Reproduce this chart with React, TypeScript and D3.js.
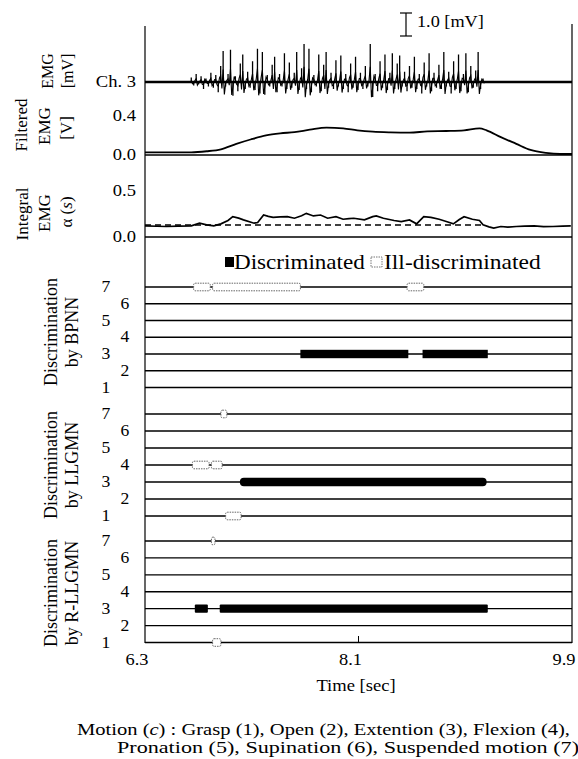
import * as d3 from "d3";

// ---------------- data
const timeDomain = [6.3, 9.9];
const timeTicks = [6.3, 8.1, 9.9];

// raw EMG (ch. 3), burst amplitudes in mV, evenly spaced between burst start/end
const emgStart = 6.69;
const emgEnd = 9.15;
const emgAmp = [
  0.2, -0.15, 0.35, -0.1, 0.25, -0.3, 0.15, -0.2, 0.4, -0.25,
  0.3, -0.45, 0.7, 1.35, -0.2, 0.35, 1.4, -0.6, 0.25, -0.4,
  0.8, 1.2, -0.3, 0.45, -0.25, 0.9, -0.35, 1.45, -0.5, 1.3,
  -0.55, 0.3, -0.2, 0.75, 1.1, -0.45, 0.35, -0.2, 1.25, -0.3,
  0.85, -0.25, 0.4, 1.3, -0.35, 0.6, 1.65, -0.3, 1.45, -0.45,
  0.3, -0.2, 1.2, -0.4, 0.75, 1.3, -0.25, 0.4, -0.3, 0.95,
  -0.2, 1.15, -0.3, 0.35, -0.45, 0.8, -0.25, 1.1, -0.35, 0.4,
  -0.3, 0.7, -0.2, 1.65, -0.65, 0.35, -0.4, 0.9, -0.25, 1.2,
  -0.35, 0.4, 1.25, -0.3, 0.8, 1.15, -0.2, 0.45, -0.4, 0.7,
  -0.25, 1.1, -0.3, 0.35, -0.5, 0.85, -0.2, 1.25, -0.4, 0.4,
  -0.25, 0.75, -0.3, 1.3, -0.2, 0.45, -0.5, 0.9, -0.3, 1.2,
  -0.4, 0.35, 1.25, -0.45, 0.7, -0.25, 0.5, 1.3, -0.3, 0.15,
];

// filtered EMG [V]
const filteredT = [6.3, 6.69, 6.82, 6.94, 7.07, 7.19, 7.32, 7.44, 7.56, 7.69, 7.83, 7.97, 8.09, 8.22, 8.37, 8.53, 8.68, 8.84, 8.99, 9.12, 9.18, 9.3, 9.43, 9.55, 9.68, 9.8, 9.9];
const filteredV = [0.027, 0.027, 0.038, 0.058, 0.113, 0.157, 0.198, 0.219, 0.232, 0.256, 0.277, 0.27, 0.25, 0.236, 0.229, 0.226, 0.239, 0.243, 0.25, 0.27, 0.25, 0.181, 0.113, 0.051, 0.021, 0.01, 0.01];

// integral EMG alpha(s) and threshold
const integralT = [6.3, 6.4, 6.48, 6.58, 6.69, 6.76, 6.82, 6.88, 6.94, 7.0, 7.04, 7.09, 7.13, 7.22, 7.25, 7.3, 7.34, 7.38, 7.44, 7.5, 7.56, 7.62, 7.66, 7.72, 7.78, 7.84, 7.91, 7.97, 8.02, 8.06, 8.15, 8.22, 8.25, 8.31, 8.36, 8.4, 8.46, 8.53, 8.59, 8.65, 8.71, 8.78, 8.84, 8.9, 8.95, 8.99, 9.06, 9.12, 9.15, 9.2, 9.24, 9.3, 9.36, 9.43, 9.5, 9.58, 9.66, 9.74, 9.82, 9.89];
const integralV = [0.121, 0.117, 0.114, 0.118, 0.121, 0.15, 0.132, 0.121, 0.143, 0.18, 0.221, 0.205, 0.186, 0.15, 0.157, 0.239, 0.225, 0.214, 0.218, 0.221, 0.204, 0.23, 0.257, 0.229, 0.239, 0.204, 0.221, 0.193, 0.2, 0.204, 0.186, 0.221, 0.229, 0.204, 0.19, 0.179, 0.168, 0.186, 0.143, 0.221, 0.214, 0.193, 0.168, 0.143, 0.19, 0.221, 0.193, 0.179, 0.132, 0.11, 0.096, 0.114, 0.108, 0.114, 0.118, 0.121, 0.112, 0.114, 0.119, 0.121];
const thresholdV = 0.13;
const thresholdEnd = 9.15;

const motions = [7, 6, 5, 4, 3, 2, 1];

// discrimination results: disc = true -> discriminated, false -> ill-discriminated
const bpnnBars = [
  { row: 7, t0: 6.71, t1: 6.85, disc: false },
  { row: 7, t0: 6.87, t1: 7.61, disc: false },
  { row: 7, t0: 8.51, t1: 8.65, disc: false },
  { row: 3, t0: 7.61, t1: 8.52, disc: true },
  { row: 3, t0: 8.64, t1: 9.19, disc: true },
];
const llgmnBars = [
  { row: 7, t0: 6.94, t1: 6.99, disc: false },
  { row: 4, t0: 6.7, t1: 6.84, disc: false },
  { row: 4, t0: 6.86, t1: 6.95, disc: false },
  { row: 3, t0: 7.1, t1: 9.18, disc: true },
  { row: 1, t0: 6.98, t1: 7.11, disc: false },
];
const rllgmnBars = [
  { row: 7, t0: 6.86, t1: 6.89, disc: false },
  { row: 3, t0: 6.72, t1: 6.83, disc: true },
  { row: 3, t0: 6.93, t1: 9.19, disc: true },
  { row: 1, t0: 6.87, t1: 6.94, disc: false },
];

// ---------------- layout
const W = 578;
const H = 759;
const FONT = "'Liberation Serif', 'Times New Roman', serif";
const SX = 1.16;

const x = d3.scaleLinear().domain(timeDomain).range([145, 572]);
const yEmg = d3.scaleLinear().domain([0, 1]).range([82, 59]);
const yFilt = d3.scaleLinear().domain([0, 0.4]).range([155, 115.5]);
const yInt = d3.scaleLinear().domain([0, 0.5]).range([237, 191]);

const panels = [
  { name: "BPNN", bars: bpnnBars, top: 287, bottom: 387.5, cy: 332, round: 0 },
  { name: "LLGMN", bars: llgmnBars, top: 414, bottom: 516, cy: 465, round: 4 },
  { name: "R-LLGMN", bars: rllgmnBars, top: 541, bottom: 642.5, cy: 593, round: 1 },
];

function Txt({ x, y, children, anchor = "start", size = 16, sx = SX }: any) {
  return (
    <text
      transform={`translate(${x},${y}) scale(${sx},1)`}
      textAnchor={anchor}
      dominantBaseline="central"
      fontSize={size}
      fontFamily={FONT}
      fill="#000"
    >
      {children}
    </text>
  );
}

function VTxt({ x, y, children, size = 17 }: any) {
  return (
    <text
      transform={`translate(${x},${y}) rotate(-90)`}
      textAnchor="middle"
      dominantBaseline="central"
      fontSize={size}
      fontFamily={FONT}
      fill="#000"
    >
      {children}
    </text>
  );
}

export default function App() {
  const n = emgAmp.length;
  const emgX = emgAmp.map((_, i) => x(emgStart + (i * (emgEnd - emgStart)) / (n - 1)));
  const step = emgX[1] - emgX[0];
  const y0 = yEmg(0);
  // tall narrow spikes
  const spikes = emgAmp.map((v, i) => `M${emgX[i]},${y0}L${emgX[i]},${yEmg(v)}`).join("");
  // dense band around the baseline
  const band = d3.line<[number, number]>()(
    emgAmp.flatMap((v, i) => [
      [emgX[i], yEmg(0.4 * v)],
      [emgX[i] + step / 2, yEmg(-0.4 * v)],
    ] as [number, number][])
  );

  const filtLine = d3
    .line<number>()
    .x((_, i) => x(filteredT[i]))
    .y((v) => yFilt(v))
    .curve(d3.curveMonotoneX);

  const intLine = d3
    .line<number>()
    .x((_, i) => x(integralT[i]))
    .y((v) => yInt(v));

  const x0 = x(timeDomain[0]);
  const x1 = x(timeDomain[1]);

  return (
    <svg
      width={W}
      height={H}
      style={{ position: "absolute", left: 0, top: 0, background: "#fff" }}
    >
      <rect width={W} height={H} fill="#fff" />

      {/* frame */}
      <line x1={x0} x2={x0} y1={26} y2={643} stroke="#000" strokeWidth={1.2} />
      <line x1={x1} x2={x1} y1={24} y2={643} stroke="#000" strokeWidth={1.2} />

      {/* ---------- raw EMG */}
      <line x1={x0} x2={x1} y1={y0} y2={y0} stroke="#000" strokeWidth={2.6} />
      <path d={band || ""} fill="none" stroke="#000" strokeWidth={1.1} />
      <path d={spikes} fill="none" stroke="#000" strokeWidth={1.3} />
      {/* scale bar */}
      <g stroke="#000" strokeWidth={1.2}>
        <line x1={406} x2={406} y1={yEmg(1) - 46} y2={yEmg(0) - 46} />
        <line x1={400} x2={412} y1={yEmg(1) - 46} y2={yEmg(1) - 46} />
        <line x1={400} x2={412} y1={yEmg(0) - 46} y2={yEmg(0) - 46} />
      </g>
      <Txt x={417} y={22} sx={1.14}>1.0 [mV]</Txt>
      <Txt x={136} y={y0} anchor="end">Ch. 3</Txt>
      <VTxt x={47} y={71} size={16}>EMG</VTxt>
      <VTxt x={67} y={71} size={16}>[mV]</VTxt>

      {/* ---------- filtered EMG */}
      <line x1={x0} x2={x1} y1={yFilt(0)} y2={yFilt(0)} stroke="#000" strokeWidth={1.4} />
      <path d={filtLine(filteredV) || ""} fill="none" stroke="#000" strokeWidth={1.8} />
      <Txt x={136} y={yFilt(0.4)} anchor="end">0.4</Txt>
      <Txt x={136} y={yFilt(0)} anchor="end">0.0</Txt>
      <VTxt x={21} y={125}>Filtered</VTxt>
      <VTxt x={44} y={126}>EMG</VTxt>
      <VTxt x={66} y={128}>[V]</VTxt>

      {/* ---------- integral EMG */}
      <line x1={x0} x2={x1} y1={yInt(0)} y2={yInt(0)} stroke="#000" strokeWidth={1.4} />
      <line
        x1={x0}
        x2={x(thresholdEnd)}
        y1={yInt(thresholdV)}
        y2={yInt(thresholdV)}
        stroke="#000"
        strokeWidth={1.4}
        strokeDasharray="6,4"
      />
      <path d={intLine(integralV) || ""} fill="none" stroke="#000" strokeWidth={1.7} />
      <Txt x={136} y={yInt(0.5)} anchor="end">0.5</Txt>
      <Txt x={136} y={yInt(0)} anchor="end">0.0</Txt>
      <VTxt x={22} y={214}>Integral</VTxt>
      <VTxt x={44} y={213}>EMG</VTxt>
      <VTxt x={66} y={212}>
        α (<tspan fontStyle="italic">s</tspan>)
      </VTxt>

      {/* ---------- legend */}
      <rect x={225} y={257} width={9} height={10} fill="#000" />
      <Txt x={234} y={262} size={21} sx={1.1}>Discriminated</Txt>
      <rect x={371} y={257} width={11} height={10} fill="#fff" stroke="#777" strokeWidth={1} strokeDasharray="1.5,1" />
      <Txt x={384} y={262} size={21} sx={1.12}>Ill-discriminated</Txt>

      {/* ---------- discrimination panels */}
      {panels.map((p) => {
        const yRow = d3.scalePoint<number>().domain(motions).range([p.top, p.bottom]);
        return (
          <g key={p.name}>
            {motions.map((m, i) => (
              <g key={m}>
                <line x1={x0} x2={x1} y1={yRow(m)} y2={yRow(m)} stroke="#000" strokeWidth={1.4} />
                <Txt x={i % 2 === 0 ? 106 : 125} y={yRow(m)} anchor="middle" sx={1.1}>
                  {m}
                </Txt>
              </g>
            ))}
            {p.bars.map((b, i) =>
              b.disc ? (
                <rect
                  key={i}
                  x={x(b.t0)}
                  y={(yRow(b.row) as number) - 4.2}
                  width={x(b.t1) - x(b.t0)}
                  height={8.4}
                  rx={p.round}
                  fill="#000"
                />
              ) : (
                <rect
                  key={i}
                  x={x(b.t0)}
                  y={(yRow(b.row) as number) - 3.8}
                  width={x(b.t1) - x(b.t0)}
                  height={7.6}
                  rx={1.5}
                  fill="#fff"
                  stroke="#666"
                  strokeWidth={1}
                  strokeDasharray="1.5,1"
                />
              )
            )}
            <VTxt x={51} y={p.cy} size={18}>Discrimination</VTxt>
            <VTxt x={72} y={p.cy} size={18}>by {p.name}</VTxt>
          </g>
        );
      })}

      {/* ---------- time axis */}
      <line x1={x(8.1)} x2={x(8.1)} y1={636} y2={643} stroke="#000" strokeWidth={1} />
      {timeTicks.map((t) => (
        <Txt key={t} x={x(t) - 8} y={660} anchor="middle" sx={1.15}>
          {t.toFixed(1)}
        </Txt>
      ))}
      <Txt x={356} y={686} anchor="middle">Time [sec]</Txt>

      {/* ---------- caption */}
      <text
        x={77}
        y={729}
        dominantBaseline="central"
        fontSize={16}
        fontFamily={FONT}
        textLength={493}
        lengthAdjust="spacingAndGlyphs"
      >
        Motion (<tspan fontStyle="italic">c</tspan>) : Grasp (1), Open (2), Extention (3), Flexion (4),
      </text>
      <text
        x={117}
        y={747}
        dominantBaseline="central"
        fontSize={16}
        fontFamily={FONT}
        textLength={462}
        lengthAdjust="spacingAndGlyphs"
      >
        Pronation (5), Supination (6), Suspended motion (7)
      </text>
    </svg>
  );
}
